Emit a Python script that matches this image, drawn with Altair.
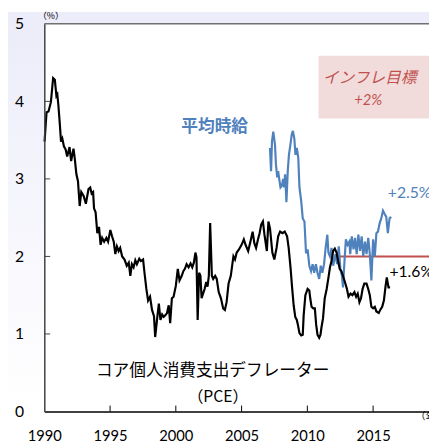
import altair as alt
import pandas as pd

# ---- data ----
pce_year = [1990.02, 1990.17, 1990.32, 1990.50, 1990.67, 1990.80, 1990.92, 1990.99, 1991.07, 1991.17,
            1991.27, 1991.37, 1991.49, 1991.62, 1991.74, 1991.92, 1992.04, 1992.22, 1992.31, 1992.44,
            1992.56, 1992.69, 1992.81, 1992.99, 1993.16, 1993.36, 1993.49, 1993.60, 1993.71, 1993.78,
            1993.90, 1994.03, 1994.16, 1994.28, 1994.40, 1994.55, 1994.72, 1994.85, 1995.02, 1995.15,
            1995.28, 1995.40, 1995.52, 1995.65, 1995.77, 1995.92, 1996.10, 1996.27, 1996.42, 1996.54,
            1996.66, 1996.79, 1996.92, 1997.04, 1997.22, 1997.34, 1997.51, 1997.63, 1997.76, 1997.89,
            1998.04, 1998.19, 1998.34, 1998.43, 1998.58, 1998.71, 1998.83, 1998.96, 1999.08, 1999.20,
            1999.33, 1999.46, 1999.57, 1999.70, 1999.83, 2000.00, 2000.15, 2000.28, 2000.45, 2000.57,
            2000.69, 2000.82, 2000.97, 2001.12, 2001.25, 2001.37, 2001.49, 2001.57, 2001.66, 2001.77,
            2001.87, 2001.96, 2002.07, 2002.19, 2002.31, 2002.41, 2002.51, 2002.61, 2002.74, 2002.84,
            2002.99, 2003.11, 2003.26, 2003.43, 2003.60, 2003.73, 2003.86, 2004.01, 2004.18, 2004.25,
            2004.38, 2004.50, 2004.63, 2004.80, 2005.00, 2005.17, 2005.30, 2005.50, 2005.67, 2005.84,
            2005.97, 2006.10, 2006.25, 2006.37, 2006.49, 2006.62, 2006.74, 2006.92, 2007.04, 2007.16,
            2007.34, 2007.49, 2007.66, 2007.78, 2007.93, 2008.11, 2008.28, 2008.46, 2008.58, 2008.73,
            2008.83, 2008.96, 2009.08, 2009.20, 2009.28, 2009.40, 2009.53, 2009.65, 2009.72, 2009.85,
            2010.02, 2010.15, 2010.22, 2010.32, 2010.45, 2010.57, 2010.67, 2010.77, 2010.90, 2011.00,
            2011.07, 2011.19, 2011.32, 2011.47, 2011.59, 2011.72, 2011.84, 2011.96, 2012.09, 2012.22,
            2012.34, 2012.46, 2012.59, 2012.71, 2012.89, 2013.01, 2013.13, 2013.28, 2013.43, 2013.58,
            2013.71, 2013.83, 2013.96, 2014.08, 2014.20, 2014.33, 2014.50, 2014.63, 2014.75, 2014.87,
            2015.00, 2015.13, 2015.25, 2015.43, 2015.54, 2015.69, 2015.82, 2015.95, 2016.04, 2016.17,
            2016.29]
pce_value = [3.48, 3.86, 3.87, 3.99, 4.30, 4.28, 4.07, 4.09, 3.95, 3.73,
             3.48, 3.52, 3.42, 3.38, 3.29, 3.41, 3.23, 3.39, 3.27, 3.06,
             2.97, 2.65, 2.83, 2.78, 2.68, 2.87, 2.89, 2.81, 2.83, 2.62,
             2.57, 2.30, 2.38, 2.15, 2.24, 2.19, 2.24, 2.19, 2.34, 2.26,
             2.19, 2.03, 2.13, 2.07, 2.11, 2.00, 1.96, 1.88, 1.92, 1.75,
             1.90, 1.86, 1.95, 1.90, 1.97, 1.94, 1.96, 1.77, 1.58, 1.43,
             1.48, 1.31, 1.23, 0.96, 1.20, 1.39, 1.18, 1.25, 1.22, 1.24,
             1.27, 1.37, 1.14, 1.46, 1.48, 1.62, 1.84, 1.69, 1.75, 1.81,
             1.84, 1.90, 1.86, 1.91, 1.86, 1.92, 2.05, 1.99, 1.18, 1.79,
             1.75, 1.46, 1.52, 1.58, 1.67, 1.61, 1.75, 2.43, 1.75, 1.71,
             1.75, 1.71, 1.54, 1.46, 1.33, 1.31, 1.41, 1.65, 1.75, 1.84,
             2.00, 1.96, 2.05, 2.09, 2.15, 2.22, 2.15, 2.07, 2.19, 2.32,
             2.17, 2.11, 2.22, 2.30, 2.41, 2.45, 2.28, 2.07, 2.45, 2.36,
             2.05, 1.96, 2.11, 2.26, 2.32, 2.30, 2.32, 2.26, 2.11, 1.84,
             1.62, 1.37, 1.22, 1.18, 1.12, 1.01, 0.98, 0.99, 1.24, 1.50,
             1.58, 1.56, 1.46, 1.35, 1.33, 1.33, 1.12, 0.99, 0.95, 0.99,
             1.08, 1.20, 1.46, 1.58, 1.71, 1.86, 1.94, 2.07, 2.10, 2.05,
             1.94, 1.84, 1.81, 1.75, 1.65, 1.58, 1.48, 1.52, 1.50, 1.54,
             1.48, 1.52, 1.41, 1.46, 1.58, 1.65, 1.65, 1.58, 1.50, 1.35,
             1.33, 1.35, 1.29, 1.27, 1.31, 1.35, 1.43, 1.62, 1.73, 1.60,
             1.60]

wage_year = [2007.16, 2007.24, 2007.31, 2007.41, 2007.54, 2007.61, 2007.71, 2007.78, 2007.86, 2007.96,
             2008.06, 2008.16, 2008.23, 2008.31, 2008.41, 2008.51, 2008.60, 2008.71, 2008.81, 2008.90,
             2009.01, 2009.10, 2009.20, 2009.31, 2009.40, 2009.53, 2009.65, 2009.78, 2009.90, 2010.02,
             2010.15, 2010.28, 2010.40, 2010.52, 2010.65, 2010.77, 2010.90, 2011.02, 2011.14, 2011.27,
             2011.39, 2011.52, 2011.60, 2011.72, 2011.84, 2011.96, 2012.14, 2012.26, 2012.39, 2012.51,
             2012.63, 2012.71, 2012.81, 2012.93, 2013.06, 2013.19, 2013.26, 2013.38, 2013.51, 2013.63,
             2013.75, 2013.88, 2014.01, 2014.13, 2014.25, 2014.38, 2014.50, 2014.63, 2014.75, 2014.87,
             2015.00, 2015.13, 2015.25, 2015.37, 2015.50, 2015.62, 2015.75, 2015.87, 2016.00, 2016.12,
             2016.25, 2016.37]
wage_value = [3.40, 3.10, 3.48, 3.61, 3.44, 3.19, 3.02, 3.10, 3.00, 2.89,
              2.91, 3.00, 2.89, 3.06, 2.70, 3.10, 3.31, 3.44, 3.57, 3.62,
              3.52, 3.31, 3.40, 3.27, 2.89, 2.72, 2.49, 2.45, 2.04, 2.09,
              1.88, 1.81, 1.90, 1.79, 1.90, 1.79, 1.71, 1.88, 1.79, 1.90,
              2.11, 2.28, 2.05, 2.00, 2.11, 1.88, 2.03, 1.90, 2.13, 1.84,
              1.75, 1.60, 1.90, 2.22, 2.15, 2.19, 2.03, 2.26, 2.09, 2.24,
              2.03, 2.28, 2.07, 2.26, 2.00, 2.19, 2.03, 2.24, 2.03, 1.69,
              2.22, 2.00, 2.30, 2.32, 2.43, 2.49, 2.59, 2.55, 2.51, 2.30,
              2.49, 2.51]

target_value = [2.0]
target_start = [2012.0]
target_end = [2020.0]

x_ticks = [1990, 1995, 2000, 2005, 2010, 2015]
y_ticks = [0, 1, 2, 3, 4, 5]

# annotations: text, x (year), y (value)
ann_target = ["インフレ目標", "+2%"]
ann_target_x = [2014.73, 2014.63]
ann_target_y = [4.30, 4.02]
box_x = [2010.85]
box_x2 = [2020.0]
box_y = [3.78]
box_y2 = [4.59]

# ---- layout / style ----
W, H = 392, 395
PAD = {"left": 37, "top": 12, "right": 0, "bottom": 29}
X_DOMAIN = [1990, 2019.25]
BLUE = "#4F81BD"
RED = "#C0504D"
JP = "Noto Sans CJK JP"
NUM = "Lato"

xs = alt.Scale(domain=X_DOMAIN, nice=False, zero=False)
ys = alt.Scale(domain=[0, 5], nice=False, zero=False)

x_axis = alt.Axis(values=x_ticks, format="d", ticks=False, tickSize=0, grid=False,
                  domainColor="#000000", domainWidth=1.5, labelFont=NUM, labelFontSize=15,
                  labelColor="#000000", labelPadding=18, labelFlush=False,
                  labelOverlap=False, zindex=1, title=None)
y_axis = alt.Axis(values=y_ticks, format="d", ticks=False, tickSize=0, grid=False,
                  domainColor="#404040", domainWidth=1.5, labelFont=NUM, labelFontSize=16,
                  labelColor="#000000", labelPadding=21, labelFlush=False,
                  labelOverlap=False, zindex=1, title=None)


def X(field):
    return alt.X(field, type="quantitative", scale=xs, axis=x_axis)


def Y(field):
    return alt.Y(field, type="quantitative", scale=ys, axis=y_axis)


one = pd.DataFrame({"a": [0]})
pce = pd.DataFrame({"year": pce_year, "value": pce_value})
wage = pd.DataFrame({"year": wage_year, "value": wage_value})
target = pd.DataFrame({"x": target_start, "x2": target_end, "y": target_value})
box = pd.DataFrame({"x": box_x, "x2": box_x2, "y": box_y, "y2": box_y2})
ytk = pd.DataFrame({"v": y_ticks[1:-1]})
xtk = pd.DataFrame({"year": x_ticks[1:]})

bg = alt.Chart(one).mark_rect(
    fill=alt.Gradient(gradient="linear",
                      stops=[alt.GradientStop(color="#ECECFA", offset=0),
                             alt.GradientStop(color="#FFFFFF", offset=0.92)],
                      x1=0, x2=0, y1=0, y2=1)
).encode(x=alt.value(-PAD["left"]), x2=alt.value(W), y=alt.value(-PAD["top"]),
         y2=alt.value(H + PAD["bottom"]))

plot_bg = alt.Chart(one).mark_rect(fill="#FFFFFF").encode(
    x=alt.value(0), x2=alt.value(W), y=alt.value(0), y2=alt.value(H))

top_border = alt.Chart(one).mark_rule(color="#707070", strokeWidth=1.5).encode(
    x=alt.value(0), x2=alt.value(W), y=alt.value(0))

box_layer = alt.Chart(box).mark_rect(fill="#F2DCDB").encode(
    x=X("x"), x2="x2", y=Y("y"), y2="y2")

target_layer = alt.Chart(target).mark_rule(color=RED, strokeWidth=2).encode(
    x=X("x"), x2="x2", y=Y("y"))

wage_line = alt.Chart(wage).mark_line(color=BLUE, strokeWidth=2.2).encode(
    x=X("year"), y=Y("value"))

pce_line = alt.Chart(pce).mark_line(color="#000000", strokeWidth=2.2).encode(
    x=X("year"), y=Y("value"))

ytick_layer = alt.Chart(ytk).mark_rule(color="#404040", strokeWidth=1).encode(
    x=alt.value(0), x2=alt.value(6), y=Y("v"))
xtick_layer = alt.Chart(xtk).mark_rule(color="#000000", strokeWidth=1).encode(
    x=X("year"), y=alt.value(H), y2=alt.value(H - 6))


def label(text, x, y, size, color="#000000", font=JP, align="center", weight="normal",
          style="normal"):
    df = pd.DataFrame({"t": [text], "x": [x], "y": [y]})
    return alt.Chart(df).mark_text(
        font=font, fontSize=size, color=color, align=align, baseline="middle",
        fontWeight=weight, fontStyle=style
    ).encode(x=X("x"), y=Y("y"), text="t:N")


texts = [
    label(ann_target[0], ann_target_x[0], ann_target_y[0], 16, RED, style="italic"),
    label(ann_target[1], ann_target_x[1], ann_target_y[1], 15, RED, font=NUM, style="italic"),
    label("平均時給", 2002.95, 3.67, 17, BLUE, weight="bold"),
    label("+2.5%", 2016.12, 2.82, 16, BLUE, font=NUM, align="left"),
    label("+1.6%", 2016.24, 1.80, 16, "#000000", font=NUM, align="left"),
    label("コア個人消費支出デフレーター", 2002.8, 0.52, 17),
    label("（PCE）", 2003.2, 0.19, 16),
    label("（%）", 1990.5, 5.10, 9),
    label("（年）", 2018.25, -0.07, 10, align="left"),
]

chart = alt.layer(
    bg, plot_bg, box_layer, target_layer, wage_line, pce_line, top_border,
    ytick_layer, xtick_layer, *texts
).properties(
    width=W, height=H, padding=PAD,
    autosize=alt.AutoSizeParams(type="none"),
    background="#FFFFFF",
).configure_view(stroke=None)

chart.save("out.html", embed_options={"renderer": "svg", "actions": False})
